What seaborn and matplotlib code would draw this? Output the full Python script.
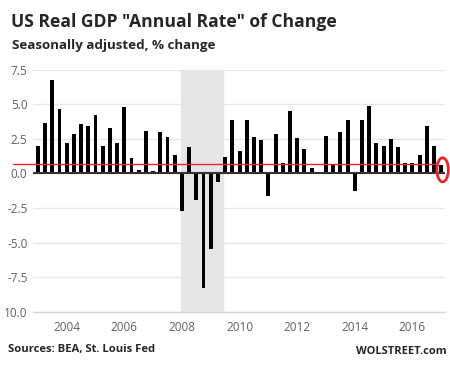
import pandas as pd
import seaborn as sns
import matplotlib.pyplot as plt
from matplotlib.patches import Ellipse

# Quarterly real GDP change, annual rate, 2003Q1 .. 2017Q1
quarters = pd.period_range('2003Q1', '2017Q1', freq='Q')
gdp_change = [
    2.0, 3.65, 6.75, 4.65,    # 2003
    2.2, 2.85, 3.55, 3.45,    # 2004
    4.2, 2.0, 3.3, 2.2,       # 2005
    4.8, 1.1, 0.25, 3.05,     # 2006
    0.15, 3.0, 2.65, 1.35,    # 2007
    -2.75, 1.9, -1.95, -8.3,  # 2008
    -5.5, -0.6, 1.2, 3.85,    # 2009
    1.6, 3.85, 2.6, 2.4,      # 2010
    -1.6, 2.85, 0.75, 4.5,    # 2011
    2.55, 1.75, 0.4, 0.05,    # 2012
    2.7, 0.7, 3.0, 3.85,      # 2013
    -1.25, 3.85, 4.85, 2.2,   # 2014
    2.0, 2.5, 1.9, 0.75,      # 2015
    0.75, 1.35, 3.45, 2.0,    # 2016
    0.6,                      # 2017
]
latest_rate = 0.68
recession = [2007.96, 2009.43]

x_ticks = [2004, 2006, 2008, 2010, 2012, 2014, 2016]
x_labels = ['2004', '2006', '2008', '2010', '2012', '2014', '2016']
y_ticks = [7.5, 5.0, 2.5, 0.0, -2.5, -5.0, -7.5, -10.0]
y_labels = ['7.5', '5.0', '2.5', '0.0', '-2.5', '-5.0', '-7.5', '10.0']

df = pd.DataFrame({
    'pos': [q.year + (q.quarter - 1) / 4 for q in quarters],
    'change': gdp_change,
})

sns.set_style('white')
plt.rcParams['font.family'] = ['Open Sans', 'DejaVu Sans']

fig = plt.figure(figsize=(4.5, 3.68), dpi=100)
ax = fig.add_axes([0.0733, 0.153, 0.9157, 0.6576])

# grid
for v in y_ticks:
    ax.axhline(v, color='#e6e6e6', lw=1, zorder=0)

# recession shading
ax.axvspan(recession[0], recession[1], color='#e6e6e6', zorder=0.5)

sns.barplot(data=df, x='pos', y='change', native_scale=True, color='black',
            width=0.55, errorbar=None, linewidth=0, saturation=1, ax=ax,
            zorder=2)

ax.axhline(0, color='#333333', lw=1.5, zorder=3)
ax.axhline(latest_rate, xmin=-0.0485, xmax=0.98, color='#e8262b', lw=1,
           zorder=4, clip_on=False)
ax.add_patch(Ellipse((2017.05, 0.26), 0.4, 1.74, fill=False, ec='#e8262b',
                     lw=2, zorder=5, clip_on=False))

ax.set_xlim(2002.83, 2017.135)
ax.set_ylim(-10, 7.5)
ax.set_xticks(x_ticks)
ax.set_xticklabels(x_labels)
ax.set_yticks(y_ticks)
ax.set_yticklabels(y_labels)
ax.set_xlabel('')
ax.set_ylabel('')
ax.tick_params(axis='x', length=5, color='#ccd6eb', colors='#606060',
               labelsize=8.5, pad=2)
ax.tick_params(axis='y', length=0, colors='#606060', labelsize=8.5, pad=4)
for s in ['top', 'right', 'left']:
    ax.spines[s].set_visible(False)
ax.spines['bottom'].set_color('#ccd6eb')
ax.spines['bottom'].set_linewidth(1)
ax.spines['bottom'].set_zorder(1)

fig.text(0.024, 0.94, 'US Real GDP "Annual Rate" of Change', fontsize=12.6,
         fontweight='bold', ha='left', va='center')
fig.text(0.027, 0.877, 'Seasonally adjusted, % change', fontsize=9.6,
         fontweight='bold', ha='left', va='center')
fig.text(0.018, 0.05, 'Sources: BEA, St. Louis Fed', fontsize=8.1,
         fontweight='bold', ha='left', va='center')
fig.text(0.993, 0.045, 'WOLSTREET.com', fontsize=8,
         fontweight='bold', ha='right', va='center')

fig.savefig('out.png', dpi=100)
